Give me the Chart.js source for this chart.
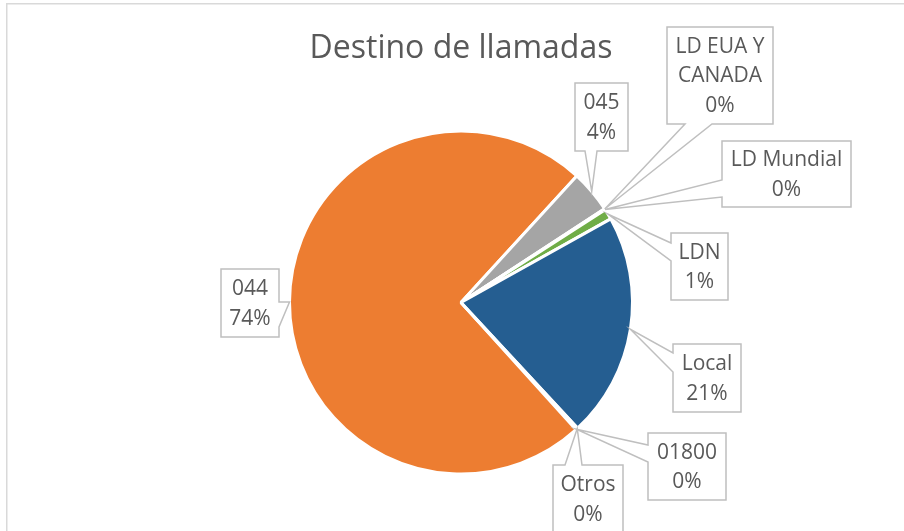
<!DOCTYPE html>
<html>
<head>
<meta charset="utf-8">
<script src="https://cdn.jsdelivr.net/npm/chart.js@4.4.1/dist/chart.umd.min.js"></script>
<style>
  html, body { margin: 0; padding: 0; background: #fff; }
  #wrap { width: 904px; height: 531px; }
</style>
</head>
<body>
<div id="wrap"><canvas id="pieChart"></canvas></div>
<script>
// data, in the order Excel draws the slices (alphabetical)
const CATEGORIES = ['01800', '044', '045', 'LD EUA Y CANADA', 'LD Mundial', 'LDN', 'Local', 'Otros'];
const SHARES = [0.1, 73.5, 4.0, 0.05, 0.05, 1.0, 21.2, 0.1];
const SLICE_COLORS = ['#4472C4', '#ED7D31', '#A5A5A5', '#FFC000', '#5B9BD5', '#70AD47', '#255E91', '#9E480E'];

// callout boxes (layout only): box rect, side of the pointer, pointer base on that side
const CALLOUTS = [
  { x: 648, y: 433, w: 78,  h: 67, side: 'left',   a: 445, b: 462 },
  { x: 221, y: 269, w: 58,  h: 68, side: 'right',  a: 302, b: 327 },
  { x: 575, y: 83,  w: 53,  h: 68, side: 'bottom', a: 585, b: 597 },
  { x: 667, y: 27,  w: 106, h: 97, side: 'bottom', a: 685, b: 712 },
  { x: 722, y: 141, w: 129, h: 66, side: 'left',   a: 180, b: 197 },
  { x: 671, y: 233, w: 57,  h: 67, side: 'left',   a: 243, b: 261 },
  { x: 673, y: 344, w: 68,  h: 68, side: 'left',   a: 353, b: 372 },
  { x: 553, y: 465, w: 70,  h: 68, side: 'top',    a: 565, b: 582 }
];

const TEXT_COLOR = '#595959';
const LABEL_FONT = '21px "Open Sans"';
const LINE_HEIGHT = 29.5;

function wrapText(ctx, text, maxWidth) {
  const words = text.split(' ');
  const lines = [];
  let line = '';
  words.forEach(word => {
    const test = line ? line + ' ' + word : word;
    if (line && ctx.measureText(test).width > maxWidth) {
      lines.push(line);
      line = word;
    } else {
      line = test;
    }
  });
  if (line) lines.push(line);
  return lines;
}

const framePlugin = {
  id: 'frame',
  beforeDraw(chart) {
    const ctx = chart.ctx;
    ctx.save();
    ctx.strokeStyle = '#D9D9D9';
    ctx.lineWidth = 1.5;
    ctx.beginPath();
    ctx.moveTo(6.75, chart.height);
    ctx.lineTo(6.75, 3.75);
    ctx.lineTo(chart.width, 3.75);
    ctx.stroke();
    ctx.restore();
  }
};

const calloutPlugin = {
  id: 'callouts',
  afterDatasetsDraw(chart) {
    const ctx = chart.ctx;
    const arcs = chart.getDatasetMeta(0).data;
    const total = SHARES.reduce((s, v) => s + v, 0);
    ctx.save();
    ctx.font = LABEL_FONT;
    arcs.forEach((arc, i) => {
      const c = CALLOUTS[i];
      if (!c) return;
      const p = arc.getProps(['x', 'y', 'startAngle', 'endAngle', 'outerRadius'], true);
      const mid = (p.startAngle + p.endAngle) / 2;
      const tx = p.x + Math.cos(mid) * p.outerRadius;
      const ty = p.y + Math.sin(mid) * p.outerRadius;
      const r = c.x + c.w, btm = c.y + c.h;

      ctx.beginPath();
      ctx.moveTo(c.x, c.y);
      if (c.side === 'top') { ctx.lineTo(c.a, c.y); ctx.lineTo(tx, ty); ctx.lineTo(c.b, c.y); }
      ctx.lineTo(r, c.y);
      if (c.side === 'right') { ctx.lineTo(r, c.a); ctx.lineTo(tx, ty); ctx.lineTo(r, c.b); }
      ctx.lineTo(r, btm);
      if (c.side === 'bottom') { ctx.lineTo(c.b, btm); ctx.lineTo(tx, ty); ctx.lineTo(c.a, btm); }
      ctx.lineTo(c.x, btm);
      if (c.side === 'left') { ctx.lineTo(c.x, c.b); ctx.lineTo(tx, ty); ctx.lineTo(c.x, c.a); }
      ctx.closePath();
      ctx.fillStyle = '#FFFFFF';
      ctx.fill();
      ctx.strokeStyle = '#BFBFBF';
      ctx.lineWidth = 1.5;
      ctx.lineJoin = 'miter';
      ctx.stroke();

      const lines = wrapText(ctx, CATEGORIES[i], c.w - 12);
      lines.push(Math.round(SHARES[i] / total * 100) + '%');
      ctx.fillStyle = TEXT_COLOR;
      ctx.textAlign = 'center';
      ctx.textBaseline = 'middle';
      const cx = c.x + c.w / 2;
      const startY = c.y + c.h / 2 - (lines.length - 1) * LINE_HEIGHT / 2 + 1;
      lines.forEach((ln, k) => ctx.fillText(ln, cx, startY + k * LINE_HEIGHT));
    });
    ctx.restore();
  }
};

new Chart(document.getElementById('pieChart'), {
  type: 'pie',
  data: {
    labels: CATEGORIES,
    datasets: [{
      data: SHARES,
      backgroundColor: SLICE_COLORS,
      borderColor: '#FFFFFF',
      borderWidth: 3
    }]
  },
  options: {
    responsive: true,
    maintainAspectRatio: false,
    animation: false,
    events: [],
    rotation: 137.5,
    layout: {
      padding: { top: 0, left: 288, right: 270, bottom: 55 }
    },
    plugins: {
      legend: { display: false },
      tooltip: { enabled: false },
      title: {
        display: true,
        text: 'Destino de llamadas',
        color: TEXT_COLOR,
        font: { family: '"Open Sans"', size: 32, weight: 'normal', lineHeight: 1.2 },
        padding: { top: 30, bottom: 60.6 }
      }
    }
  },
  plugins: [framePlugin, calloutPlugin]
});
</script>
</body>
</html>
